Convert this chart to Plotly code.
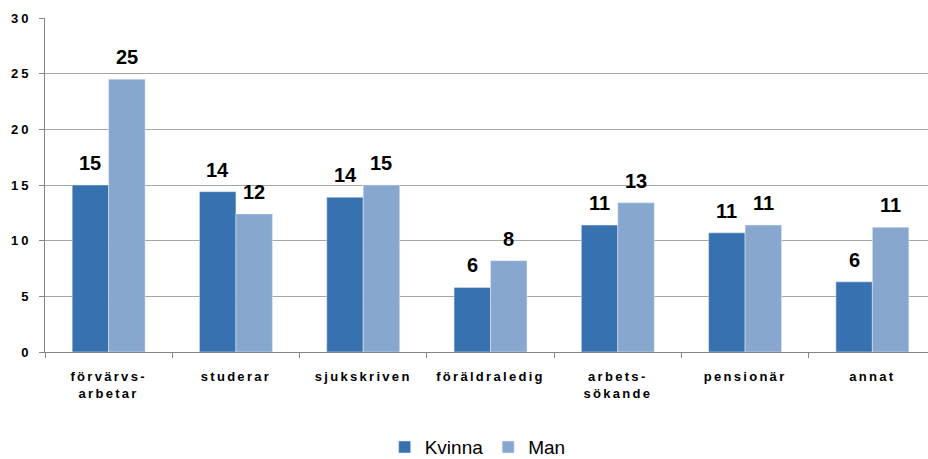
import math
import plotly.graph_objects as go

# Categories (x axis) and shares per group
categories = ["förvärvs-<br>arbetar", "studerar", "sjukskriven", "föräldraledig",
              "arbets-<br>sökande", "pensionär", "annat"]
kvinna = [15.0, 14.4, 13.9, 5.8, 11.4, 10.7, 6.3]
man = [24.5, 12.4, 15.0, 8.2, 13.4, 11.4, 11.2]
y_ticks = [0, 5, 10, 15, 20, 25, 30]

KVINNA_COLOR = "#3871B0"
MAN_COLOR = "#88A7CF"
FONT = "Liberation Sans, Arial, sans-serif"


def spaced(label, spacing):
    return "<br>".join(
        f'<span style="letter-spacing:{spacing}px">{part}</span>' for part in label.split("<br>")
    )


def rounded(v):
    return str(int(math.floor(v + 0.5)))


fig = go.Figure()
fig.add_trace(go.Bar(name="Kvinna", x=categories, y=kvinna, marker_color=KVINNA_COLOR))
fig.add_trace(go.Bar(name="Man", x=categories, y=man, marker_color=MAN_COLOR))

# value labels above each bar
for series, shift in ((kvinna, -18.2), (man, 18.2)):
    for cat, v in zip(categories, series):
        fig.add_annotation(
            x=cat, y=v, xref="x", yref="y", text=f"<b>{rounded(v)}</b>",
            showarrow=False, yanchor="bottom", xshift=shift, yshift=9,
            font=dict(family=FONT, size=20, color="black"),
        )

fig.update_layout(
    width=928, height=459,
    margin=dict(l=45, r=0, t=18, b=107, autoexpand=False),
    paper_bgcolor="white", plot_bgcolor="white",
    barmode="group", bargap=0.427, bargroupgap=0,
    font=dict(family=FONT, color="black"),
    showlegend=True,
    legend=dict(orientation="h", x=0.49, xanchor="center", y=-0.228, yanchor="top",
                font=dict(family=FONT, size=19, color="black"),
                itemwidth=30, traceorder="normal"),
)

fig.update_xaxes(
    range=[-0.5, 6.437], automargin=False,
    tickmode="array", tickvals=categories, ticktext=[spaced(c, 2.3) for c in categories],
    tickson="boundaries", ticks="outside", ticklen=5, tickcolor="#868686",
    showline=True, linecolor="#868686", linewidth=1,
    tickfont=dict(family=FONT, size=13, color="black", weight="bold"),
    ticklabelstandoff=12,
    showgrid=False,
)
fig.update_yaxes(
    range=[0, 30], automargin=False, tickmode="array", tickvals=y_ticks,
    ticktext=[spaced(str(t), 3) for t in y_ticks],
    ticks="outside", ticklen=5, tickcolor="#868686",
    showline=True, linecolor="#868686", linewidth=1,
    gridcolor="#A6A6A6", gridwidth=1, zeroline=False,
    tickfont=dict(family=FONT, size=13, color="black", weight="bold"),
    ticklabelstandoff=5,
)

fig.write_html("out.html")
